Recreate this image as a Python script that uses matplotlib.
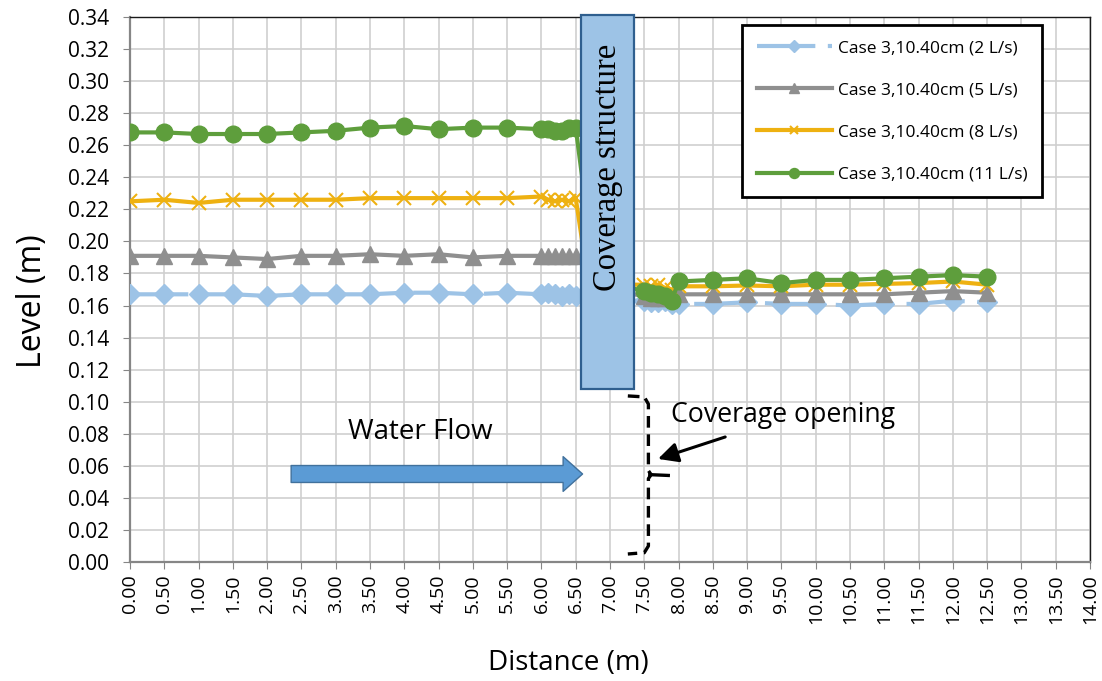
import matplotlib
matplotlib.use('Agg')
import matplotlib.pyplot as plt
from matplotlib.patches import Rectangle
from matplotlib.ticker import MultipleLocator, FormatStrFormatter

plt.rcParams['font.family'] = ['Open Sans', 'DejaVu Sans']

# ---------------- data ----------------
distance = [0.0, 0.5, 1.0, 1.5, 2.0, 2.5, 3.0, 3.5, 4.0, 4.5, 5.0, 5.5, 6.0,
            6.1, 6.2, 6.3, 6.4, 6.5,
            6.7, 7.2,
            7.5, 7.6, 7.7, 7.8, 7.9,
            8.0, 8.5, 9.0, 9.5, 10.0, 10.5, 11.0, 11.5, 12.0, 12.5]

level_2ls = [0.167, 0.167, 0.167, 0.167, 0.166, 0.167, 0.167, 0.167, 0.168, 0.168, 0.167, 0.168, 0.167,
             0.168, 0.167, 0.166, 0.167, 0.166,
             0.165, 0.163,
             0.163, 0.162, 0.162, 0.163, 0.161,
             0.161, 0.161, 0.162, 0.161, 0.161, 0.160, 0.161, 0.161, 0.163, 0.162]

level_5ls = [0.191, 0.191, 0.191, 0.190, 0.189, 0.191, 0.191, 0.192, 0.191, 0.192, 0.190, 0.191, 0.191,
             0.191, 0.191, 0.191, 0.191, 0.191,
             0.185, 0.168,
             0.166, 0.165, 0.165, 0.165, 0.166,
             0.167, 0.167, 0.167, 0.167, 0.167, 0.167, 0.167, 0.168, 0.169, 0.168]

level_8ls = [0.225, 0.226, 0.224, 0.226, 0.226, 0.226, 0.226, 0.227, 0.227, 0.227, 0.227, 0.227, 0.228,
             0.226, 0.225, 0.226, 0.225, 0.227,
             0.170, 0.173,
             0.173, 0.172, 0.173, 0.171, 0.170,
             0.172, 0.172, 0.1725, 0.172, 0.173, 0.173, 0.1735, 0.174, 0.175, 0.173]

level_11ls = [0.268, 0.268, 0.267, 0.267, 0.267, 0.268, 0.269, 0.271, 0.272, 0.270, 0.271, 0.271, 0.270,
              0.270, 0.269, 0.269, 0.271, 0.271,
              0.205, 0.172,
              0.169, 0.168, 0.167, 0.166, 0.163,
              0.175, 0.176, 0.177, 0.174, 0.176, 0.176, 0.177, 0.178, 0.179, 0.178]

series_labels = ['Case 3,10.40cm (2 L/s)', 'Case 3,10.40cm (5 L/s)',
                 'Case 3,10.40cm (8 L/s)', 'Case 3,10.40cm (11 L/s)']

# ---------------- figure ----------------
fig = plt.figure(figsize=(11.02, 6.81), dpi=100)
ax = fig.add_axes([130 / 1102, 1 - 562 / 681, 960 / 1102, 545 / 681])

c_blue = '#9DC3E6'
c_gray = '#8F8F8F'
c_yellow = '#EEB111'
c_green = '#5E9E3C'

ax.plot(distance, level_2ls, color=c_blue, lw=3, marker='D', ms=10,
        dashes=(14, 3), label=series_labels[0], zorder=3)
ax.plot(distance, level_5ls, color=c_gray, lw=3, marker='^', ms=11,
        label=series_labels[1], zorder=4)
ax.plot(distance, level_8ls, color=c_yellow, lw=3, marker='x', ms=10, mew=1.5,
        label=series_labels[2], zorder=5)
ax.plot(distance, level_11ls, color=c_green, lw=3, marker='o', ms=12,
        label=series_labels[3], zorder=6)

ax.set_xlim(0, 14)
ax.set_ylim(0, 0.34)
ax.xaxis.set_major_locator(MultipleLocator(0.5))
ax.yaxis.set_major_locator(MultipleLocator(0.02))
ax.xaxis.set_major_formatter(FormatStrFormatter('%.2f'))
ax.yaxis.set_major_formatter(FormatStrFormatter('%.2f'))
ax.grid(True, color='#CFCFCF', lw=1.2, zorder=0)
ax.set_axisbelow(True)
ax.tick_params(axis='x', labelrotation=90, labelsize=14, length=5, color='#868686', pad=4)
ax.tick_params(axis='y', labelsize=15, length=5, color='#868686', pad=10)
for s in ['left', 'bottom']:
    ax.spines[s].set_color('#868686')
    ax.spines[s].set_linewidth(1.6)
for s in ['top', 'right']:
    ax.spines[s].set_color('#1a1a1a')
    ax.spines[s].set_linewidth(1.0)

ax.set_xlabel('Distance (m)', fontsize=20)
ax.xaxis.label.set_va('center')
ax.xaxis.set_label_coords(0.457, -0.185)
ax.set_ylabel('Level (m)', fontsize=23)
ax.yaxis.label.set_va('center')
ax.yaxis.set_label_coords(-0.102, 0.479)

# coverage structure
rect = Rectangle((6.57, 0.108), 0.78, 0.2335, facecolor='#9DC3E6', edgecolor='#2F5F8F',
                 lw=1.6, zorder=10, clip_on=False)
ax.add_patch(rect)
ax.text(6.96, 0.246, 'Coverage structure', rotation=90, ha='center', va='center',
        fontsize=23.5, family='Liberation Serif', zorder=11)

# water flow arrow
ax.annotate('', xy=(6.6, 0.0549), xytext=(2.35, 0.0549),
            arrowprops=dict(arrowstyle='simple,head_width=2.5,tail_width=1.22,head_length=1.4',
                            mutation_scale=10, fc='#5B9BD5', ec='#41719C', lw=1,
                            shrinkA=0, shrinkB=0), zorder=8)
ax.text(4.23, 0.081, 'Water Flow', ha='center', va='center', fontsize=20, zorder=8)

# coverage opening brace
bx = [7.26, 7.50, 7.56, 7.56, 7.60, 7.56, 7.56, 7.50, 7.26]
by = [0.1036, 0.1030, 0.0985, 0.0570, 0.0545, 0.0520, 0.0100, 0.0058, 0.0050]
ax.plot(bx, by, color='black', lw=2.4, dashes=(3.5, 2.0), zorder=8)
ax.plot([7.58, 7.85], [0.0545, 0.0540], color='black', lw=2.4, zorder=8)
ax.annotate('', xy=(7.70, 0.0643), xytext=(8.68, 0.078),
            arrowprops=dict(arrowstyle='-|>,head_length=0.6,head_width=0.3', lw=2.2,
                            color='black', mutation_scale=20, shrinkA=0, shrinkB=0), zorder=8)
ax.text(9.53, 0.0917, 'Coverage opening', ha='center', va='center', fontsize=19.2, zorder=8)

leg = ax.legend(loc='upper right', bbox_to_anchor=(0.95, 0.985), fontsize=12.5,
                frameon=True, fancybox=False, edgecolor='black', framealpha=1,
                labelspacing=1.5, handlelength=4.3, borderpad=0.85, markerscale=0.6,
                handletextpad=0.35, borderaxespad=0)
leg.get_frame().set_linewidth(2.0)
leg.set_zorder(20)

fig.savefig('out.png', dpi=100, facecolor='white')
